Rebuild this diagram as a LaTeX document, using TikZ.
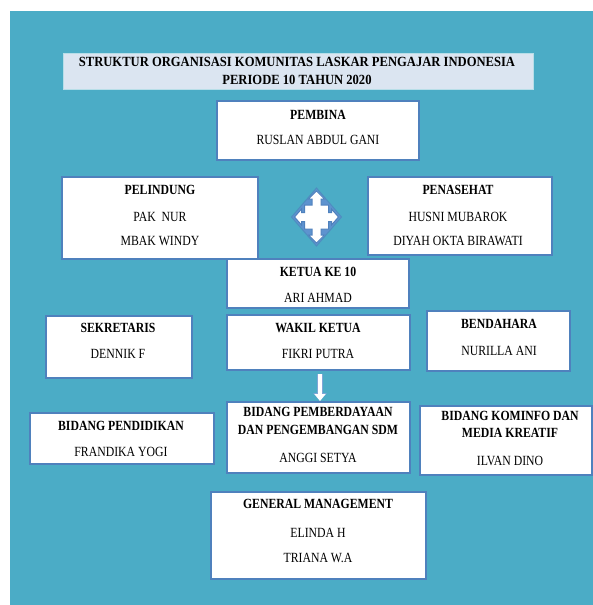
\documentclass[tikz,border=0pt]{standalone}
\usepackage{fontspec}
\setmainfont{Liberation Serif}[FakeStretch=0.84]
\newfontfamily\titlefont{Liberation Serif}[FakeStretch=0.9]
\usetikzlibrary{arrows.meta}
\definecolor{bgteal}{HTML}{4BACC6}
\definecolor{boxblue}{HTML}{4F81BD}
\definecolor{titlefill}{HTML}{DBE5F1}
\definecolor{glow}{HTML}{7FA6D6}
\definecolor{quadglow}{HTML}{5E93CF}
\tikzset{
  box/.style={draw=boxblue, line width=1.8pt, fill=white, inner sep=0pt, outer sep=0pt},
  titlebox/.style={draw=bgteal!40!white, line width=0.8pt, fill=titlefill, inner sep=0pt},
  hd/.style={font=\fontsize{14}{15}\selectfont\bfseries, text height=9.3pt, text depth=0pt, inner sep=0pt},
  nm/.style={font=\fontsize{14}{15}\selectfont, text height=9.3pt, text depth=0pt, inner sep=0pt},
  tt/.style={font=\titlefont\fontsize{14}{15}\selectfont\bfseries, text height=9.3pt, text depth=0pt, inner sep=0pt},
  blockarrow/.style={white, line width=4pt, -{Triangle[length=7pt,width=11pt]},
    preaction={draw=glow, line width=6pt, -{Triangle[length=8pt,width=13pt]}}},
  quad/.style={fill=white, draw=boxblue, line width=1pt, line join=miter},
  quadback/.style={fill=quadglow, draw=boxblue!70!bgteal, line width=1pt}
}
\begin{document}
\begin{tikzpicture}[x=1pt,y=-1pt]
\useasboundingbox (0,0) rectangle (593,605);
\fill[bgteal] (10,11) rectangle (593,605);

% title
\node[titlebox, minimum width=470pt, minimum height=36pt] (title) at (298,71) {};
\node[tt] (t1) at (297,62) {STRUKTUR ORGANISASI KOMUNITAS LASKAR PENGAJAR INDONESIA};
\node[tt] (t2) at (297,80) {PERIODE 10 TAHUN 2020};

% boxes
\node[box, minimum width=202pt, minimum height=59pt] (pembina) at (318,130.5) {};
\node[box, minimum width=196pt, minimum height=82pt] (pelindung) at (160,218) {};
\node[box, minimum width=184pt, minimum height=78pt] (penasehat) at (460,216) {};
\node[box, minimum width=182pt, minimum height=49pt] (ketua) at (318,283.5) {};
\node[box, minimum width=146pt, minimum height=62pt] (sekretaris) at (119,347) {};
\node[box, minimum width=183pt, minimum height=55pt] (wakil) at (318.5,342.5) {};
\node[box, minimum width=143pt, minimum height=60pt] (bendahara) at (498.5,341) {};
\node[box, minimum width=184pt, minimum height=51pt] (bpend) at (122,438.5) {};
\node[box, minimum width=183pt, minimum height=71pt] (bpemb) at (318.5,437.5) {};
\node[box, minimum width=172pt, minimum height=69pt] (bkom) at (506,440.5) {};
\node[box, minimum width=215pt, minimum height=87pt] (general) at (318.5,535.5) {};

% texts
\node[hd] (pembina1) at (318,115) {PEMBINA};
\node[nm] (pembina2) at (318,140) {RUSLAN ABDUL GANI};

\node[hd] (pel1) at (160,190) {PELINDUNG};
\node[nm] (pel2) at (160,217) {PAK\ \ NUR};
\node[nm] (pel3) at (160,241) {MBAK WINDY};

\node[hd] (pen1) at (458,190) {PENASEHAT};
\node[nm] (pen2) at (458,217) {HUSNI MUBAROK};
\node[nm] (pen3) at (458,241) {DIYAH OKTA BIRAWATI};

\node[hd] (ket1) at (318,272) {KETUA KE 10};
\node[nm] (ket2) at (318,298) {ARI AHMAD};

\node[hd] (sek1) at (118,328) {SEKRETARIS};
\node[nm] (sek2) at (118,354) {DENNIK F};

\node[hd] (wak1) at (318,328) {WAKIL KETUA};
\node[nm] (wak2) at (318,354) {FIKRI PUTRA};

\node[hd] (ben1) at (499,324) {BENDAHARA};
\node[nm] (ben2) at (499,351) {NURILLA ANI};

\node[hd] (bpe1) at (121,426) {BIDANG PENDIDIKAN};
\node[nm] (bpe2) at (121,452) {FRANDIKA YOGI};

\node[hd] (bpm1) at (318,412) {BIDANG PEMBERDAYAAN};
\node[hd] (bpm2) at (318,430) {DAN PENGEMBANGAN SDM};
\node[nm] (bpm3) at (318,458) {ANGGI SETYA};

\node[hd] (bko1) at (510,416) {BIDANG KOMINFO DAN};
\node[hd] (bko2) at (510,433) {MEDIA KREATIF};
\node[nm] (bko3) at (510,461) {ILVAN DINO};

\node[hd] (gen1) at (318,504) {GENERAL MANAGEMENT};
\node[nm] (gen2) at (318,533) {ELINDA H};
\node[nm] (gen3) at (318,558) {TRIANA W.A};

% quad arrow
\coordinate (qa) at (316.5,217);
\begin{scope}[shift={(qa)}]
\draw[quadback] (0,-29) -- (25,0) -- (0,29) -- (-25,0) -- cycle;
\draw[quad] (0,-26) -- (8,-18) -- (4.5,-18) -- (4.5,-12) -- (12,-12) -- (12,-4.5) -- (15,-4.5) -- (15,-8)
 -- (22,0) -- (15,8) -- (15,4.5) -- (12,4.5) -- (12,12) -- (4.5,12) -- (4.5,18) -- (8,18)
 -- (0,26) -- (-8,18) -- (-4.5,18) -- (-4.5,12) -- (-12,12) -- (-12,4.5) -- (-15,4.5) -- (-15,8)
 -- (-22,0) -- (-15,-8) -- (-15,-4.5) -- (-12,-4.5) -- (-12,-12) -- (-4.5,-12) -- (-4.5,-18) -- (-8,-18) -- cycle;
\end{scope}

% down arrow
\draw[blockarrow] ([xshift=1.5pt,yshift=-4pt]wakil.south) -- ([xshift=1.5pt,yshift=1pt]bpemb.north);
\end{tikzpicture}
\end{document}
